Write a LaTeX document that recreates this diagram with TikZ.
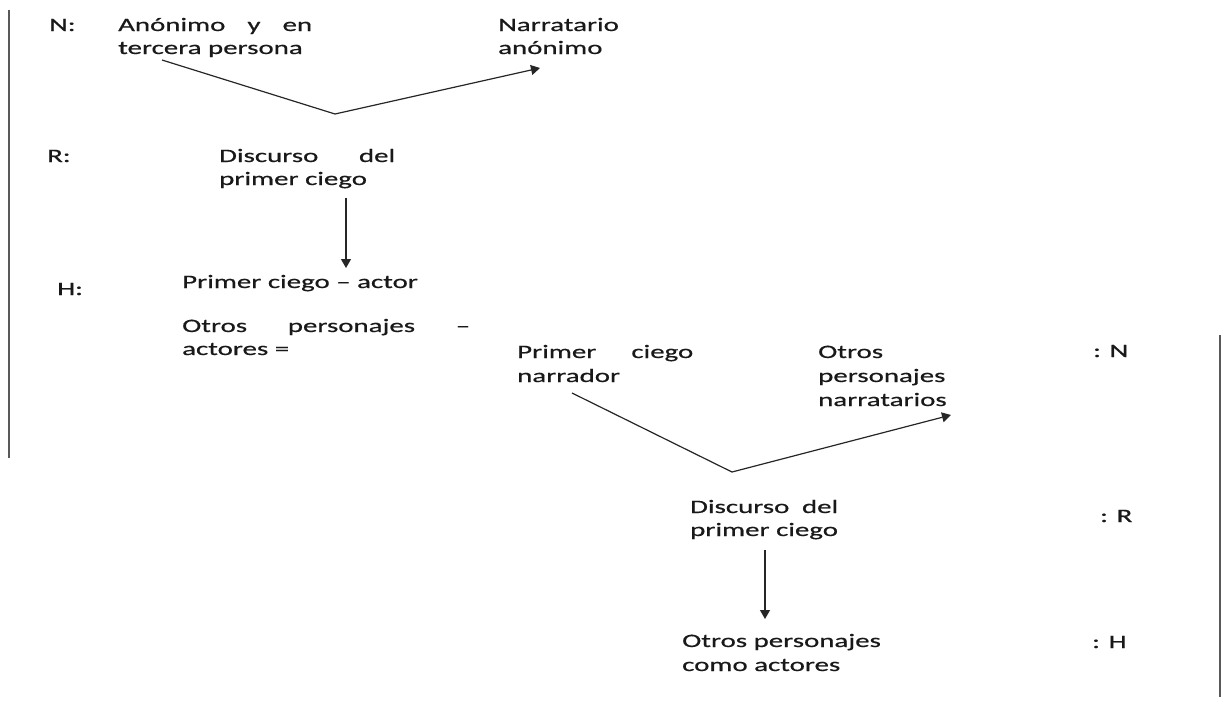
\documentclass[tikz,border=0pt]{standalone}
\usepackage{fontspec}
\setmainfont{Carlito}[FakeStretch=1.52,FakeBold=0.6]
\usetikzlibrary{arrows.meta}
\begin{document}
\begin{tikzpicture}[x=1pt,y=-1pt,
  txt/.style={anchor=base west,inner sep=0pt,font=\fontsize{19}{23}\selectfont,text=black!90},
  conn/.style={line width=1.2pt,black!85},
  arr/.style={conn,-{Triangle[length=9pt,width=10pt]}},
  border/.style={line width=2pt,black!65}]
\useasboundingbox (0,0) rectangle (1225,702);
% borders
\coordinate (lt) at (9,10); \coordinate (lb) at (9,458);
\coordinate (rt) at (1220,335); \coordinate (rb) at (1220,697);
\draw[border] (lt) -- (lb);
\draw[border] (rt) -- (rb);
% level labels
\node[txt] (lN) at (49,31) {N:};
\node[txt] (lR) at (47,162) {R:};
\node[txt] (lH) at (57,295) {H:};
\node[txt] (rN) at (1093,357) {: N};
\node[txt] (rR) at (1100,522) {: R};
\node[txt] (rH) at (1092,648) {: H};
% upper diagram
\node[txt] (anonA) at (118,31) {\makebox[194pt][s]{Anónimo y en}};
\node[txt] (anonB) at (118,54) {tercera persona};
\node[txt] (narrA) at (498,31) {Narratario};
\node[txt] (narrB) at (498,54) {anónimo};
\node[txt] (discA) at (219,162) {\makebox[176pt][s]{Discurso del}};
\node[txt] (discB) at (219,185) {primer ciego};
\node[txt] (pca) at (182,288) {Primer ciego – actor};
\node[txt] (opaA) at (182,332) {\makebox[288pt][s]{Otros personajes –}};
\node[txt] (opaB) at (182,355) {actores =};
% lower diagram
\node[txt] (pcnA) at (517,358) {\makebox[176pt][s]{Primer ciego}};
\node[txt] (pcnB) at (517,382) {narrador};
\node[txt] (opnA) at (818,358) {Otros};
\node[txt] (opnB) at (818,382) {personajes};
\node[txt] (opnC) at (818,406) {narratarios};
\node[txt] (disc2A) at (690,513) {\makebox[148pt][s]{Discurso del}};
\node[txt] (disc2B) at (690,536) {primer ciego};
\node[txt] (opcA) at (682,647) {Otros personajes};
\node[txt] (opcB) at (682,671) {como actores};
% upper connectors
\coordinate (s1) at (162,60);
\coordinate (v1) at (335,114);
\coordinate (e1) at (540,68);
\draw[conn] (s1) -- (v1);
\draw[arr] (v1) -- (e1);
\coordinate (d1s) at (346,198);
\coordinate (d1e) at (346,268);
\draw[arr] (d1s) -- (d1e);
% lower connectors
\coordinate (s2) at (572,393);
\coordinate (v2) at (732,472);
\coordinate (e2) at (951,415);
\draw[conn] (s2) -- (v2);
\draw[arr] (v2) -- (e2);
\coordinate (d2s) at (765,550);
\coordinate (d2e) at (765,619);
\draw[arr] (d2s) -- (d2e);
\end{tikzpicture}
\end{document}
